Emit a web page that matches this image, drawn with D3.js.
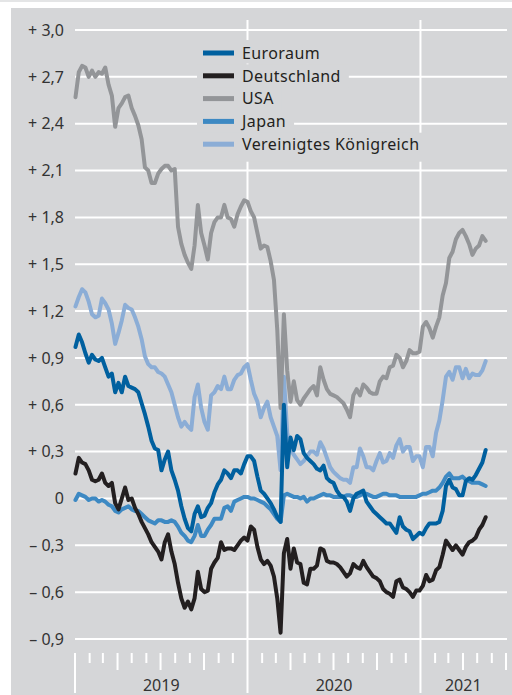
<!DOCTYPE html>
<html>
<head>
<meta charset="utf-8">
<script src="https://cdn.jsdelivr.net/npm/d3@7"></script>
<style>
  body { margin: 0; background: #fff; }
  svg { display: block; font-family: "Noto Sans", "Open Sans", sans-serif; }
</style>
</head>
<body>
<svg id="chart" width="512" height="695"></svg>
<script>
// weekly observations, Wednesdays from 2 Jan 2019 to 19 May 2021
const dates = d3.timeWednesday.range(new Date(2019, 0, 2), new Date(2021, 4, 20));

const euroraum = [0.97,1.05,1.00,0.93,0.87,0.92,0.89,0.88,0.90,0.84,0.78,0.80,0.68,0.74,0.68,0.78,0.72,0.71,0.70,0.68,
  0.61,0.54,0.46,0.37,0.32,0.31,0.18,0.25,0.30,0.18,0.12,0.05,-0.05,-0.13,-0.19,-0.21,-0.10,-0.05,-0.12,-0.11,
  -0.06,-0.03,0.04,0.09,0.12,0.18,0.16,0.13,0.18,0.18,0.16,0.22,0.27,0.27,0.24,0.14,0.05,0.03,0.00,-0.03,
  -0.07,-0.12,-0.15,0.60,0.20,0.39,0.31,0.40,0.38,0.29,0.26,0.24,0.22,0.19,0.18,0.21,0.13,0.11,0.10,0.05,
  0.02,0.01,-0.02,-0.08,0.00,0.03,0.04,0.05,-0.02,-0.05,-0.08,-0.10,-0.12,-0.14,-0.16,-0.16,-0.19,-0.22,-0.12,-0.18,
  -0.20,-0.21,-0.26,-0.24,-0.22,-0.23,-0.19,-0.16,-0.16,-0.16,-0.15,-0.08,0.08,0.12,0.07,0.06,0.02,0.02,0.11,0.13,
  0.12,0.15,0.19,0.23,0.31];

const deutschland = [0.16,0.26,0.23,0.22,0.18,0.12,0.11,0.12,0.16,0.10,0.08,0.10,-0.03,-0.07,0.00,0.07,-0.01,0.00,-0.06,-0.10,
  -0.15,-0.19,-0.23,-0.28,-0.31,-0.34,-0.39,-0.28,-0.23,-0.34,-0.42,-0.54,-0.64,-0.70,-0.66,-0.71,-0.64,-0.47,-0.58,-0.60,
  -0.59,-0.45,-0.41,-0.38,-0.28,-0.33,-0.32,-0.32,-0.33,-0.30,-0.27,-0.25,-0.27,-0.18,-0.20,-0.31,-0.39,-0.42,-0.40,-0.43,
  -0.50,-0.64,-0.86,-0.35,-0.26,-0.45,-0.32,-0.41,-0.42,-0.54,-0.55,-0.45,-0.45,-0.43,-0.32,-0.33,-0.40,-0.41,-0.41,-0.42,
  -0.44,-0.47,-0.50,-0.48,-0.42,-0.44,-0.45,-0.40,-0.44,-0.47,-0.50,-0.51,-0.53,-0.58,-0.60,-0.61,-0.63,-0.53,-0.52,-0.57,
  -0.58,-0.60,-0.63,-0.59,-0.59,-0.56,-0.49,-0.53,-0.52,-0.46,-0.44,-0.36,-0.27,-0.30,-0.33,-0.30,-0.33,-0.36,-0.31,-0.28,
  -0.27,-0.25,-0.20,-0.17,-0.12];

const usa = [2.57,2.73,2.77,2.76,2.70,2.74,2.70,2.73,2.72,2.76,2.65,2.58,2.38,2.50,2.53,2.57,2.58,2.50,2.45,2.39,
  2.30,2.12,2.10,2.02,2.02,2.08,2.11,2.13,2.13,2.10,2.11,1.74,1.63,1.56,1.51,1.47,1.62,1.88,1.70,1.62,
  1.53,1.70,1.77,1.80,1.80,1.88,1.80,1.79,1.74,1.82,1.87,1.91,1.90,1.84,1.80,1.70,1.60,1.62,1.61,1.52,
  1.40,1.08,0.58,1.18,0.82,0.62,0.75,0.63,0.60,0.64,0.67,0.70,0.72,0.66,0.84,0.76,0.70,0.67,0.66,0.65,
  0.63,0.61,0.57,0.52,0.66,0.70,0.66,0.73,0.71,0.68,0.67,0.67,0.75,0.78,0.77,0.84,0.85,0.92,0.90,0.84,
  0.88,0.95,0.93,0.93,0.94,1.10,1.13,1.09,1.03,1.10,1.16,1.30,1.38,1.54,1.58,1.66,1.70,1.72,1.68,1.63,
  1.56,1.60,1.62,1.68,1.65];

const japan = [-0.01,0.03,0.02,0.01,-0.01,0.00,0.00,-0.02,-0.01,-0.02,-0.04,-0.05,-0.08,-0.09,-0.07,-0.06,-0.05,-0.07,-0.08,-0.08,
  -0.10,-0.12,-0.14,-0.15,-0.16,-0.14,-0.14,-0.15,-0.15,-0.14,-0.15,-0.18,-0.22,-0.24,-0.27,-0.28,-0.24,-0.17,-0.24,-0.24,
  -0.20,-0.17,-0.13,-0.13,-0.13,-0.06,-0.05,-0.08,-0.02,-0.01,0.00,0.01,0.01,0.00,0.00,-0.01,-0.02,-0.03,-0.05,-0.07,
  -0.10,-0.13,-0.15,0.02,0.03,0.02,0.01,0.01,0.00,0.01,-0.02,0.00,0.00,0.01,0.02,0.03,0.02,0.02,0.01,0.01,
  0.01,0.01,0.02,0.02,0.01,0.01,0.02,0.03,0.03,0.02,0.01,0.01,0.02,0.03,0.03,0.02,0.02,0.02,0.01,0.01,
  0.01,0.01,0.01,0.01,0.02,0.03,0.03,0.04,0.05,0.05,0.07,0.10,0.14,0.16,0.13,0.13,0.13,0.14,0.12,0.11,
  0.10,0.10,0.10,0.09,0.08];

const uk = [1.23,1.29,1.34,1.32,1.26,1.18,1.16,1.17,1.28,1.25,1.21,1.12,0.99,1.06,1.14,1.24,1.22,1.21,1.16,1.10,
  1.02,0.91,0.86,0.84,0.84,0.81,0.80,0.78,0.73,0.68,0.60,0.52,0.46,0.49,0.46,0.44,0.65,0.73,0.58,0.49,
  0.44,0.66,0.68,0.72,0.70,0.78,0.70,0.70,0.76,0.79,0.80,0.84,0.86,0.76,0.67,0.62,0.52,0.58,0.62,0.52,
  0.46,0.40,0.18,0.78,0.42,0.32,0.28,0.25,0.22,0.24,0.27,0.30,0.30,0.28,0.36,0.32,0.26,0.20,0.17,0.15,
  0.13,0.12,0.12,0.10,0.20,0.20,0.32,0.27,0.20,0.20,0.18,0.24,0.29,0.23,0.24,0.29,0.26,0.34,0.38,0.30,
  0.33,0.33,0.24,0.27,0.27,0.20,0.33,0.33,0.27,0.42,0.50,0.63,0.78,0.81,0.76,0.84,0.84,0.77,0.83,0.77,
  0.80,0.79,0.79,0.82,0.88];

const seriesNames = ["Euroraum", "Deutschland", "USA", "Japan", "Vereinigtes Königreich"];
const seriesValues = [euroraum, deutschland, usa, japan, uk];
const seriesColors = ["#00609f", "#231f20", "#939598", "#3d89c3", "#8badd6"];

const yTicks = [3.0, 2.7, 2.4, 2.1, 1.8, 1.5, 1.2, 0.9, 0.6, 0.3, 0, -0.3, -0.6, -0.9];
const yearLabels = ["2019", "2020", "2021"];

const svg = d3.select("#chart");
const panelColor = "#d5d6d8";

svg.append("rect").attr("x", 0).attr("y", 0).attr("width", 512).attr("height", 2).attr("fill", "#e4e5e6");
svg.append("rect").attr("x", 11).attr("y", 8).attr("width", 501).attr("height", 687).attr("fill", panelColor);

const x = d3.scaleTime()
  .domain([new Date(2019, 0, 1), new Date(2021, 6, 1)])
  .range([75, 506]);
const y = d3.scaleLinear().domain([-0.9, 3.0]).range([639, 30]);

function fmt(v) {
  const s = d3.format(".1f")(Math.abs(v)).replace(".", ",");
  if (v === 0) return "0";
  return (v > 0 ? "+ " : "\u2013 ") + s;
}

// horizontal grid
svg.append("g").selectAll("line")
  .data(yTicks)
  .join("line")
  .attr("x1", 75).attr("x2", 507)
  .attr("y1", d => y(d)).attr("y2", d => y(d))
  .attr("stroke", "#fff").attr("stroke-width", 2);

svg.append("g").selectAll("text")
  .data(yTicks)
  .join("text")
  .attr("x", 64)
  .attr("y", d => y(d))
  .attr("dy", "0.36em")
  .attr("text-anchor", "end")
  .attr("font-size", 16)
  .attr("fill", "#333")
  .text(fmt);

// year separators
const yearStarts = [new Date(2020, 0, 1), new Date(2021, 0, 1)];
svg.append("g").selectAll("line")
  .data(yearStarts)
  .join("line")
  .attr("x1", d => x(d)).attr("x2", d => x(d))
  .attr("y1", 20).attr("y2", 693)
  .attr("stroke", "#fff").attr("stroke-width", 2);
svg.append("line")
  .attr("x1", x(new Date(2019, 0, 1))).attr("x2", x(new Date(2019, 0, 1)))
  .attr("y1", 653).attr("y2", 693)
  .attr("stroke", "#fff").attr("stroke-width", 2);

// month ticks, quarters longer
const months = d3.timeMonth.range(new Date(2019, 1, 1), new Date(2021, 6, 2))
  .filter(d => d.getMonth() !== 0);
svg.append("g").selectAll("line")
  .data(months)
  .join("line")
  .attr("x1", d => x(d)).attr("x2", d => x(d))
  .attr("y1", 653)
  .attr("y2", d => d.getMonth() % 3 === 0 ? 670 : 663)
  .attr("stroke", "#fff").attr("stroke-width", 2);

const yearSpans = [
  [new Date(2019, 0, 1), new Date(2020, 0, 1)],
  [new Date(2020, 0, 1), new Date(2021, 0, 1)],
  [new Date(2021, 0, 1), new Date(2021, 6, 1)]
];
svg.append("g").selectAll("text")
  .data(yearLabels)
  .join("text")
  .attr("x", (d, i) => (x(yearSpans[i][0]) + x(yearSpans[i][1])) / 2)
  .attr("y", 691)
  .attr("text-anchor", "middle")
  .attr("font-size", 16)
  .attr("fill", "#333")
  .text(d => d);

// lines, drawn in reverse legend order so Euroraum sits on top
const line = d3.line()
  .x((d, i) => x(dates[i]))
  .y(d => y(d));

const order = [4, 2, 3, 1, 0];
svg.append("g").selectAll("path")
  .data(order)
  .join("path")
  .attr("d", k => line(seriesValues[k]))
  .attr("fill", "none")
  .attr("stroke", k => seriesColors[k])
  .attr("stroke-width", 4)
  .attr("stroke-linejoin", "round")
  .attr("stroke-linecap", "round");

// legend
const legend = svg.append("g");
const legendTop = 53, legendStep = 22.8;
const items = legend.selectAll("g")
  .data(seriesNames)
  .join("g")
  .attr("transform", (d, i) => "translate(0," + (legendTop + i * legendStep) + ")");

items.append("rect").attr("class", "bg").attr("fill", panelColor);
items.append("rect")
  .attr("x", 203).attr("y", -2.5)
  .attr("width", 31).attr("height", 5)
  .attr("fill", (d, i) => seriesColors[i]);
items.append("text")
  .attr("x", 242)
  .attr("dy", "0.36em")
  .attr("font-size", 16)
  .attr("letter-spacing", 0.4)
  .attr("fill", "#231f20")
  .text(d => d);

items.each(function(d, i) {
  const w = d3.select(this).select("text").node().getComputedTextLength();
  d3.select(this).select("rect.bg")
    .attr("x", 197)
    .attr("y", i === 0 ? -13 : -11.5)
    .attr("width", 242 + w + 8 - 197)
    .attr("height", i === seriesNames.length - 1 ? 29 : 23.5);
});
</script>
</body>
</html>
